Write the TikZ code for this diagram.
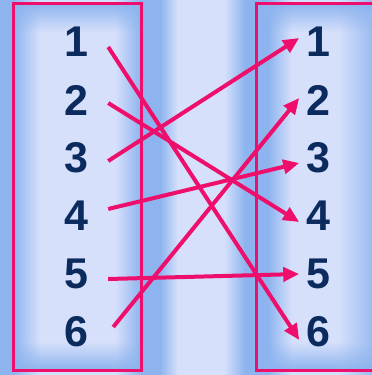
\documentclass[tikz,border=0pt]{standalone}
\usepackage{fontspec}
\setmainfont{Liberation Sans}
\usetikzlibrary{positioning,arrows.meta,fadings}
\definecolor{PanelBlue}{HTML}{8DB4EF}
\definecolor{PaleBlue}{HTML}{D6E0FB}
\definecolor{HotPink}{HTML}{EE0F6C}
\definecolor{Navy}{HTML}{0B2A5E}

\begin{document}
\begin{tikzpicture}[
  x=1pt, y=-1pt,
  num/.style={inner sep=0pt, minimum height=40pt, text=Navy, font=\fontsize{43}{43}\selectfont\bfseries},
  lnum/.style={num, minimum width=64pt},
  rnum/.style={num, minimum width=38pt},
  panel/.style={draw=HotPink, line width=3pt},
  link/.style={-{Triangle[length=16pt,width=14pt]}, draw=HotPink, line width=4pt}
]
  \useasboundingbox (0,0) rectangle (372,375);
  \clip (0,0) rectangle (372,375);
  % background bands
  \fill[PanelBlue] (0,0) rectangle (13,375);
  \shade[left color=PanelBlue, right color=PaleBlue] (13,0) rectangle (40,375);
  \fill[PaleBlue] (40,0) rectangle (115,375);
  \shade[left color=PaleBlue, right color=PanelBlue] (115,0) rectangle (141,375);
  \fill[PanelBlue] (141,0) rectangle (160,375);
  \shade[left color=PanelBlue, right color=PaleBlue] (160,0) rectangle (178,375);
  \fill[PaleBlue] (178,0) rectangle (224,375);
  \shade[left color=PaleBlue, right color=PanelBlue] (224,0) rectangle (245,375);
  \fill[PanelBlue] (245,0) rectangle (268,375);
  \shade[left color=PanelBlue, right color=PaleBlue] (268,0) rectangle (292,375);
  \fill[PaleBlue] (292,0) rectangle (338,375);
  \shade[left color=PaleBlue, right color=PanelBlue] (338,0) rectangle (380,375);
  \fill[PanelBlue, path fading=south] (13,3) rectangle (141,32);
  \fill[PanelBlue, path fading=north] (13,342) rectangle (141,370);
  \fill[PanelBlue, path fading=south] (256,3) rectangle (380,32);
  \fill[PanelBlue, path fading=north] (256,342) rectangle (380,370);

  % panels
  \draw[panel] (13,3) rectangle (141,370);
  \draw[panel] (385,3) -- (256,3) -- (256,370) -- (385,370);

  \node[lnum] (l1) at (76,42) {1};
  \node[lnum, below=17.6pt of l1] (l2) {2};
  \node[lnum, below=17.6pt of l2] (l3) {3};
  \node[lnum, below=17.6pt of l3] (l4) {4};
  \node[lnum, below=17.6pt of l4] (l5) {5};
  \node[lnum, below=17.6pt of l5] (l6) {6};

  \node[rnum, right=191pt of l1] (r1) {1};
  \node[rnum, below=17.6pt of r1] (r2) {2};
  \node[rnum, below=17.6pt of r2] (r3) {3};
  \node[rnum, below=17.6pt of r3] (r4) {4};
  \node[rnum, below=17.6pt of r4] (r5) {5};
  \node[rnum, below=17.6pt of r5] (r6) {6};

  \draw[link] ([yshift=-5pt]l1.east) -- ([yshift=-8pt]r6.west);
  \draw[link] ([yshift=-3pt]l2.east) -- ([yshift=-6pt]r4.west);
  \draw[link] ([yshift=-3pt]l3.east) -- ([yshift=4pt]r1.west);
  \draw[link] ([yshift=7pt]l4.east) -- ([yshift=-5pt]r3.west);
  \draw[link] ([yshift=-5pt]l5.east) -- (r5.west);
  \draw[link] ([xshift=5pt,yshift=5pt]l6.east) -- ([yshift=2pt]r2.west);
\end{tikzpicture}
\end{document}
